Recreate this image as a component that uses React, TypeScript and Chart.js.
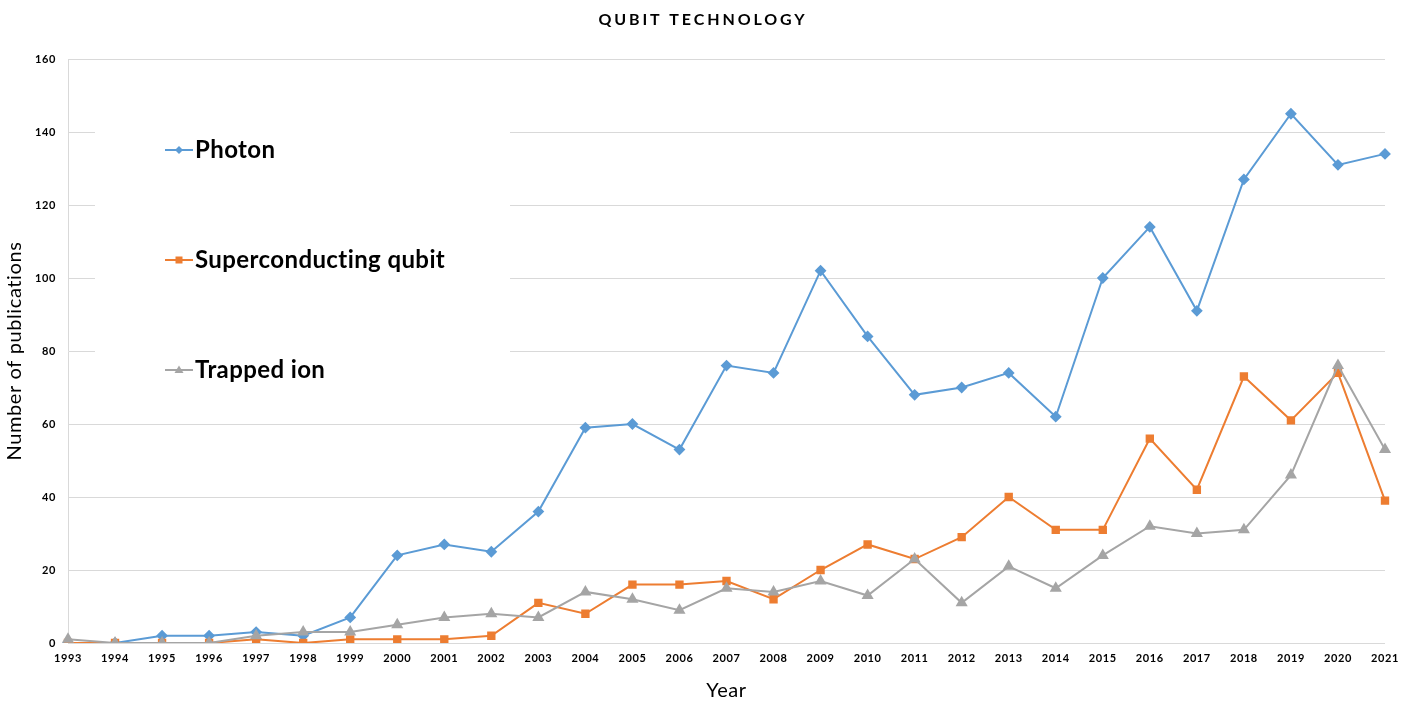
import React, { useEffect, useRef } from "react";
import { Chart, registerables } from "chart.js";

Chart.register(...registerables);

const years = ["1993","1994","1995","1996","1997","1998","1999","2000","2001","2002","2003","2004","2005","2006","2007","2008","2009","2010","2011","2012","2013","2014","2015","2016","2017","2018","2019","2020","2021"];
const photon = [0,0,2,2,3,2,7,24,27,25,36,59,60,53,76,74,102,84,68,70,74,62,100,114,91,127,145,131,134];
const superconducting = [0,0,0,0,1,0,1,1,1,2,11,8,16,16,17,12,20,27,23,29,40,31,31,56,42,73,61,74,39];
const trappedIon = [1,0,0,0,2,3,3,5,7,8,7,14,12,9,15,14,17,13,23,11,21,15,24,32,30,31,46,76,53];
const yTicks = [0,20,40,60,80,100,120,140,160];
const chartTitle = "QUBIT TECHNOLOGY";

const FONT = "Lato, 'Open Sans', sans-serif";

const customPlugin = {
  id: "custom",
  beforeDraw(chart: any) {
    chart.ctx.letterSpacing = "0.6px";
  },
  beforeDatasetsDraw(chart: any) {
    const ctx = chart.ctx;
    ctx.save();
    ctx.letterSpacing = "0px";
    // legend background box
    ctx.fillStyle = "#ffffff";
    ctx.fillRect(95, 64, 415, 336);
    const ys = [150, 260, 370];
    chart.data.datasets.forEach((ds: any, i: number) => {
      const y = ys[i];
      ctx.strokeStyle = ds.borderColor;
      ctx.lineWidth = 2;
      ctx.beginPath();
      ctx.moveTo(165, y);
      ctx.lineTo(193, y);
      ctx.stroke();
      ctx.fillStyle = ds.backgroundColor;
      ctx.beginPath();
      if (ds.pointStyle === "rectRot") {
        ctx.moveTo(179, y - 4);
        ctx.lineTo(183, y);
        ctx.lineTo(179, y + 4);
        ctx.lineTo(175, y);
      } else if (ds.pointStyle === "rect") {
        ctx.rect(175.5, y - 3.5, 7, 7);
      } else {
        ctx.moveTo(179, y - 4.5);
        ctx.lineTo(183.5, y + 3);
        ctx.lineTo(174.5, y + 3);
      }
      ctx.closePath();
      ctx.fill();
      ctx.fillStyle = "#000000";
      ctx.font = `bold 24px ${FONT}`;
      ctx.letterSpacing = "0.4px";
      ctx.textAlign = "left";
      ctx.textBaseline = "middle";
      ctx.fillText(ds.label, 195, y);
      ctx.letterSpacing = "0px";
    });
    ctx.restore();
  },
  afterDraw(chart: any) {
    const ctx = chart.ctx;
    ctx.save();
    ctx.letterSpacing = "2.9px";
    ctx.fillStyle = "#000000";
    ctx.font = `bold 16px ${FONT}`;
    ctx.textAlign = "center";
    ctx.textBaseline = "middle";
    ctx.fillText(chartTitle, 703, 20);
    ctx.restore();
  },
};

export default function App() {
  const ref = useRef<HTMLCanvasElement | null>(null);
  useEffect(() => {
    document.body.style.margin = "0";
    const canvas = ref.current;
    if (!canvas) return;
    const chart = new Chart(canvas, {
      type: "line",
      data: {
        labels: years,
        datasets: [
          {
            label: "Photon",
            data: photon,
            borderColor: "#5B9BD5",
            backgroundColor: "#5B9BD5",
            pointStyle: "rectRot",
            pointRadius: 4.5,
            borderWidth: 2,
            tension: 0,
            order: 2,
          },
          {
            label: "Superconducting qubit",
            data: superconducting,
            borderColor: "#ED7D31",
            backgroundColor: "#ED7D31",
            pointStyle: "rect",
            pointRadius: 4.5,
            borderWidth: 2,
            tension: 0,
            order: 1,
          },
          {
            label: "Trapped ion",
            data: trappedIon,
            borderColor: "#A5A5A5",
            backgroundColor: "#A5A5A5",
            pointStyle: "triangle",
            pointRadius: 5,
            borderWidth: 2,
            tension: 0,
            order: 0,
          },
        ] as any,
      },
      options: {
        responsive: false,
        animation: false,
        devicePixelRatio: 1,
        layout: { padding: { left: 0, right: 23, top: 59, bottom: 0 } },
        plugins: {
          legend: { display: false },
          title: { display: false },
          tooltip: { enabled: false },
        },
        scales: {
          x: {
            type: "category",
            offset: false,
            grid: { display: false },
            border: { display: false },
            ticks: {
              autoSkip: false,
              maxRotation: 0,
              minRotation: 0,
              padding: 1,
              color: "#000000",
              font: { family: FONT, size: 11, weight: "bold" },
            },
            title: {
              display: true,
              text: "Year",
              color: "#000000",
              font: { family: FONT, size: 20 },
              padding: { top: 8, bottom: 6 },
            },
            afterFit: (s: any) => { s.height = 66; },
          },
          y: {
            min: 0,
            max: 160,
            afterBuildTicks: (s: any) => { s.ticks = yTicks.map((v) => ({ value: v })); },
            grid: { color: "#D9D9D9", lineWidth: 1, drawTicks: false },
            border: { display: true, color: "#D9D9D9" },
            ticks: {
              padding: 12,
              color: "#000000",
              font: { family: FONT, size: 11, weight: "bold" },
            },
            title: {
              display: true,
              text: "Number of publications",
              color: "#000000",
              font: { family: FONT, size: 20 },
              padding: { top: 3, bottom: 4 },
            },
            afterFit: (s: any) => { s.width = 68; },
          },
        },
      } as any,
      plugins: [customPlugin],
    });
    return () => chart.destroy();
  }, []);
  return (
    <div style={{ width: 1408, height: 709, background: "#ffffff" }}>
      <canvas ref={ref} width={1408} height={709} style={{ display: "block" }} />
    </div>
  );
}
